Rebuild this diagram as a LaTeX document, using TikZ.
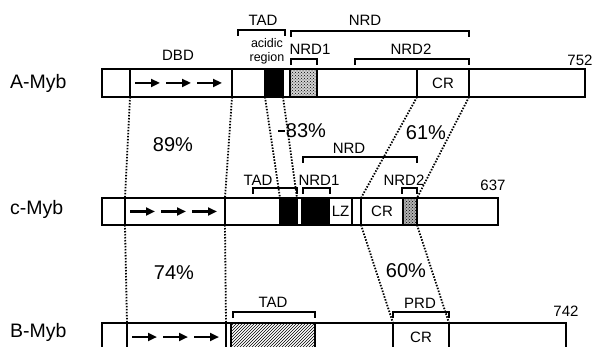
\documentclass[tikz,border=0pt]{standalone}
\usepackage{fontspec}
\setmainfont{Liberation Sans}
\usetikzlibrary{arrows.meta,positioning,calc,patterns}

\begin{document}
\begin{tikzpicture}[x=1pt,y=-1pt,
  seg/.style={draw,line width=2.2pt,minimum height=28pt,inner sep=0pt,
              outer sep=0pt,font=\fontsize{15}{17}\selectfont},
  dbd/.style={-{Triangle[length=9pt,width=8pt]},line width=2.5pt},
  hom/.style={line width=1.8pt,dash pattern=on 1.5pt off 1.5pt},
  brk/.style={line width=1.4pt},
  lbl/.style={font=\fontsize{15}{17}\selectfont,inner sep=0pt},
  sml/.style={font=\fontsize{12.5}{14}\selectfont,inner sep=0pt,align=center},
  pct/.style={font=\fontsize{20}{22}\selectfont,inner sep=0pt},
  prot/.style={font=\fontsize{19.5}{22}\selectfont,inner sep=0pt,anchor=base west}
]
\useasboundingbox (0,0) rectangle (594,347);

% A-Myb
\node[seg,minimum width=28pt,anchor=west] (aN) at (102,83) {};
\node[seg,minimum width=102pt,right=0pt of aN] (aDBD) {};
\node[seg,minimum width=33pt,right=0pt of aDBD] (aTAD) {};
\node[seg,fill=black,minimum width=18pt,right=0pt of aTAD] (aAcid) {};
\node[seg,minimum width=7pt,right=0pt of aAcid] (aGap) {};
\node[seg,preaction={fill=gray!35},pattern=crosshatch dots,minimum width=27pt,
      right=0pt of aGap] (aNRD1) {};
\node[seg,minimum width=100pt,right=0pt of aNRD1] (aMid) {};
\node[seg,minimum width=52pt,right=0pt of aMid] (aCR) {CR};
\node[seg,minimum width=116pt,right=0pt of aCR] (aC) {};

% c-Myb
\node[seg,minimum width=23pt,minimum height=27pt,anchor=west] (cN) at (102,211.5) {};
\node[seg,minimum width=100pt,minimum height=27pt,right=0pt of cN] (cDBD) {};
\node[seg,minimum width=55pt,minimum height=27pt,right=0pt of cDBD] (cTAD) {};
\node[seg,fill=black,minimum width=17pt,minimum height=27pt,right=0pt of cTAD] (cAcid) {};
\node[seg,minimum width=5pt,minimum height=27pt,right=0pt of cAcid] (cGap) {};
\node[seg,fill=black,minimum width=27pt,minimum height=27pt,right=0pt of cGap] (cNRD1) {};
\node[seg,minimum width=23pt,minimum height=27pt,right=0pt of cNRD1] (cLZ) {LZ};
\node[seg,minimum width=9pt,minimum height=27pt,right=0pt of cLZ] (cGapb) {};
\node[seg,minimum width=42pt,minimum height=27pt,right=0pt of cGapb] (cCR) {CR};
\node[seg,preaction={fill=gray!60},pattern=crosshatch dots,minimum width=14pt,
      minimum height=27pt,right=0pt of cCR] (cNRD2) {};
\node[seg,minimum width=81pt,minimum height=27pt,right=0pt of cNRD2] (cC) {};

% B-Myb
\node[seg,minimum width=25pt,anchor=west] (bN) at (102,337) {};
\node[seg,minimum width=99pt,right=0pt of bN] (bDBD) {};
\node[seg,minimum width=5pt,right=0pt of bDBD] (bGap) {};
\node[seg,pattern=north east lines,minimum width=84pt,right=0pt of bGap] (bTAD) {};
\node[seg,minimum width=78pt,right=0pt of bTAD] (bMid) {};
\node[seg,minimum width=56pt,right=0pt of bMid] (bCR) {CR};
\node[seg,minimum width=117pt,right=0pt of bCR] (bC) {};

% DBD repeats
\foreach \b in {aDBD,cDBD,bDBD}
  \foreach \s in {5,36,67}
    \draw[dbd] ($(\b.west)+(\s,0)$) -- ++(25,0);

% protein names
\node[prot] (aName) at (10,89) {A-Myb};
\node[prot] (cName) at (10,215) {c-Myb};
\node[prot] (bName) at (10,337) {B-Myb};

% A-Myb domains
\node[lbl] (aDBDl) at (178,55) {DBD};
\draw[brk] (238,36) |- (285,30) -- (285,36);
\node[lbl] (aTADl) at (263,20) {TAD};
\node[sml] (aAcidl) at (267,51) {acidic\\region};
\draw[brk] (291,37) |- (469,31) -- (469,37);
\node[lbl] (aNRDl) at (365,20) {NRD};
\draw[brk] (291,65) |- (317,59) -- (317,65);
\node[lbl] (aNRD1l) at (310,49) {NRD1};
\draw[brk] (355,65) |- (469,59) -- (469,65);
\node[lbl] (aNRD2l) at (411,49) {NRD2};
\node[lbl] (aLen) at (580,60) {752};

% c-Myb domains
\draw[brk] (253,194) |- (297,188) -- (297,194);
\node[lbl] (cTADl) at (258,180) {TAD};
\draw[brk] (303,194) |- (330,188) -- (330,194);
\node[lbl] (cNRD1l) at (319,180) {NRD1};
\draw[brk] (303,163) |- (417,157) -- (417,163);
\node[lbl] (cNRDl) at (349,148) {NRD};
\draw[brk] (402,194) |- (417,188) -- (417,194);
\node[lbl] (cNRD2l) at (404,180) {NRD2};
\node[lbl] (cLen) at (493,185) {637};

% B-Myb domains
\draw[brk] (233,318) |- (315,312) -- (315,318);
\node[lbl] (bTADl) at (273,302) {TAD};
\draw[brk] (393,318) |- (449,312) -- (449,318);
\node[lbl] (bPRDl) at (420,303) {PRD};
\node[lbl] (bLen) at (566,311) {742};

% homology lines
\draw[hom] (aDBD.south west) -- (cDBD.north west);
\draw[hom] (aDBD.south east) -- (cDBD.north east);
\draw[hom] (aAcid.south west) -- (cAcid.north west);
\draw[hom] (aAcid.south east) -- (cAcid.north east);
\draw[hom] (aCR.south west) -- (cCR.north west);
\draw[hom] (aCR.south east) -- (cNRD2.north east);
\draw[hom] (cDBD.south west) -- (bDBD.north west);
\draw[hom] (cDBD.south east) -- (bDBD.north east);
\draw[hom] (cCR.south west) -- (bCR.north west);
\draw[hom] (cNRD2.south east) -- (bCR.north east);

% identities
\node[pct] (p89) at (173,145) {89\%};
\node[pct] (p83) at (306,131) {83\%};
\draw[brk] ([xshift=-1pt]p83.west) -- ++(-7,0);
\node[pct] (p61) at (426,133) {61\%};
\node[pct] (p74) at (174,273) {74\%};
\node[pct] (p60) at (406,271) {60\%};
\end{tikzpicture}
\end{document}
